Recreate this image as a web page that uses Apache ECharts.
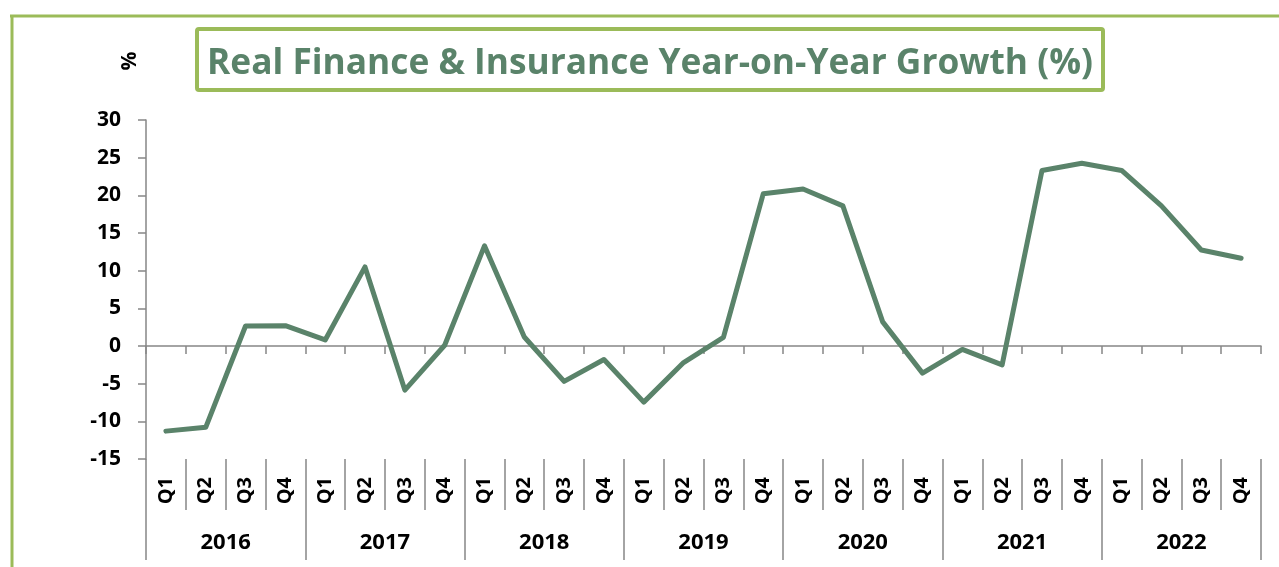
<!DOCTYPE html>
<html>
<head>
<meta charset="utf-8">
<script src="https://cdn.jsdelivr.net/npm/echarts@6/dist/echarts.min.js"></script>
<style>
html,body{margin:0;padding:0;background:#fff;}
#chart{width:1279px;height:567px;}
</style>
</head>
<body>
<div id="chart"></div>
<script>
var quarters = ['Q1','Q2','Q3','Q4','Q1','Q2','Q3','Q4','Q1','Q2','Q3','Q4','Q1','Q2','Q3','Q4',
                'Q1','Q2','Q3','Q4','Q1','Q2','Q3','Q4','Q1','Q2','Q3','Q4'];
var years = ['2016','2017','2018','2019','2020','2021','2022'];
var growth = [-11.3, -10.8, 2.65, 2.7,
              0.8, 10.5, -5.85, 0.1,
              13.3, 1.2, -4.7, -1.8,
              -7.45, -2.2, 1.15, 20.2,
              20.85, 18.6, 3.2, -3.6,
              -0.45, -2.5, 23.3, 24.25,
              23.3, 18.6, 12.75, 11.65];
var yTicks = {min: -15, max: 30, interval: 5};

var FONT = '"Open Sans", "Noto Sans", sans-serif';
var AXIS = '#868686';
var GREEN = '#9BBB59';
var LINE = '#5A836A';

var chart = echarts.init(document.getElementById('chart'), null, {renderer: 'canvas'});
chart.setOption({
  backgroundColor: '#ffffff',
  animation: false,
  title: {
    text: 'Real Finance & Insurance Year-on-Year Growth (%)',
    left: 207, top: 46, padding: 0,
    textStyle: {fontFamily: FONT, fontWeight: 'bold', fontSize: 35.3, color: LINE}
  },
  graphic: [
    {type: 'line', shape: {x1: 10, y1: 16, x2: 1279, y2: 16}, style: {stroke: GREEN, lineWidth: 3}},
    {type: 'line', shape: {x1: 12, y1: 16, x2: 12, y2: 567}, style: {stroke: GREEN, lineWidth: 3}},
    {type: 'rect', shape: {x: 197, y: 29, width: 906, height: 61, r: 2}, style: {fill: null, stroke: GREEN, lineWidth: 4}},
    {type: 'text', x: 130, y: 61, rotation: Math.PI / 2,
     style: {text: '%', fontFamily: FONT, fontWeight: 'bold', fontSize: 21, fill: '#000', align: 'center', verticalAlign: 'middle'}}
  ],
  grid: {left: 146, right: 18, top: 120, bottom: 108, containLabel: false},
  xAxis: [
    {type: 'category', data: quarters, boundaryGap: true,
     axisLine: {onZero: true, lineStyle: {color: AXIS, width: 1.5}},
     axisTick: {show: true, interval: 0, length: 8, lineStyle: {color: AXIS, width: 1.5}},
     axisLabel: {show: false}, splitLine: {show: false}},
    {type: 'category', data: quarters, position: 'bottom', boundaryGap: true,
     axisLine: {show: false, onZero: false},
     axisTick: {show: true, interval: 0, length: 51, lineStyle: {color: AXIS, width: 1.5}},
     axisLabel: {show: true, interval: 0, rotate: 90, margin: 18, fontFamily: FONT, fontWeight: 'bold', fontSize: 20, color: '#000'},
     splitLine: {show: false}},
    {type: 'category', data: years, position: 'bottom', boundaryGap: true,
     axisLine: {show: false, onZero: false},
     axisTick: {show: true, interval: 0, length: 101, lineStyle: {color: AXIS, width: 1.5}},
     axisLabel: {show: true, interval: 0, margin: 73, fontFamily: FONT, fontWeight: 'bold', fontSize: 22, color: '#000'},
     splitLine: {show: false}}
  ],
  yAxis: {
    type: 'value', min: yTicks.min, max: yTicks.max, interval: yTicks.interval,
    axisLine: {show: true, lineStyle: {color: AXIS, width: 1.5}},
    axisTick: {show: true, length: 8, lineStyle: {color: AXIS, width: 1.5}},
    axisLabel: {margin: 25, fontFamily: FONT, fontWeight: 'bold', fontSize: 21, color: '#000'},
    splitLine: {show: false}
  },
  series: [{
    type: 'line', data: growth, xAxisIndex: 0, yAxisIndex: 0,
    symbol: 'none', smooth: false,
    lineStyle: {color: LINE, width: 5, cap: 'round', join: 'round'}
  }]
});
</script>
</body>
</html>
